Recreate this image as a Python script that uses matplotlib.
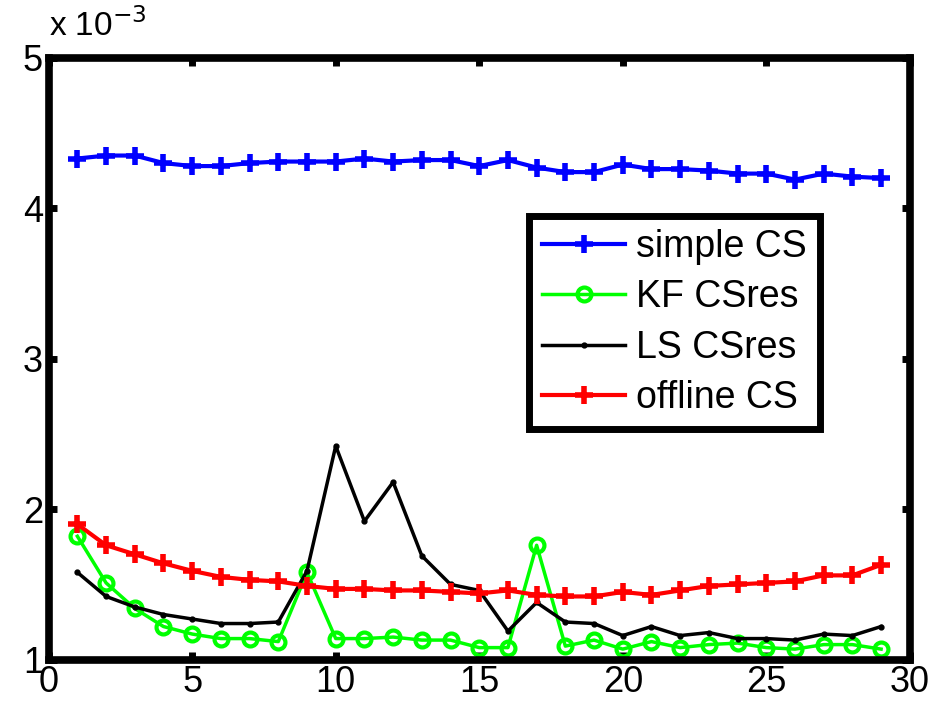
import matplotlib
matplotlib.use('Agg')
import matplotlib.pyplot as plt

plt.rcParams['font.family'] = ['Liberation Sans', 'DejaVu Sans']

# values in units of 1e-3
x = list(range(1, 30))
simple_cs = [4.33, 4.35, 4.35, 4.30, 4.28, 4.28, 4.30, 4.31, 4.31, 4.31,
             4.33, 4.31, 4.32, 4.32, 4.28, 4.32, 4.27, 4.24, 4.24, 4.29,
             4.26, 4.26, 4.25, 4.23, 4.23, 4.19, 4.23, 4.21, 4.20]
kf_csres = [1.82, 1.51, 1.34, 1.22, 1.17, 1.14, 1.14, 1.12, 1.58, 1.14,
            1.14, 1.15, 1.13, 1.13, 1.08, 1.08, 1.76, 1.09, 1.13, 1.07,
            1.12, 1.08, 1.10, 1.11, 1.08, 1.07, 1.10, 1.10, 1.07]
ls_csres = [1.58, 1.42, 1.35, 1.30, 1.27, 1.24, 1.24, 1.25, 1.59, 2.42,
            1.92, 2.18, 1.69, 1.50, 1.46, 1.19, 1.38, 1.25, 1.24, 1.16,
            1.22, 1.16, 1.18, 1.14, 1.14, 1.13, 1.17, 1.16, 1.22]
offline_cs = [1.90, 1.76, 1.70, 1.64, 1.59, 1.55, 1.53, 1.52, 1.49, 1.47,
              1.47, 1.46, 1.46, 1.45, 1.44, 1.46, 1.43, 1.42, 1.42, 1.45,
              1.43, 1.46, 1.49, 1.50, 1.51, 1.52, 1.56, 1.56, 1.63]

fig = plt.figure(figsize=(9.36, 7.04), dpi=100)
ax = fig.add_axes([0.052, 0.063, 0.920, 0.855])

ax.plot(x, simple_cs, color='#0000ff', lw=3, marker='+', ms=13, mew=4, label='simple CS')
ax.plot(x, kf_csres, color='#00ff00', lw=2.5, marker='o', ms=10, mew=3, mfc='none', label='KF CSres')
ax.plot(x, ls_csres, color='black', lw=2.5, marker='.', ms=7, label='LS CSres')
ax.plot(x, offline_cs, color='#ff0000', lw=3, marker='+', ms=13, mew=4, label='offline CS')

ax.set_xlim(0, 30)
ax.set_ylim(1, 5)
ax.set_xticks([0, 5, 10, 15, 20, 25, 30])
ax.set_yticks([1, 2, 3, 4, 5])
ax.tick_params(direction='in', length=6, width=5, labelsize=26, top=True, right=True, pad=4)
for s in ax.spines.values():
    s.set_linewidth(5.5)

ax.text(0.0, 1.025, 'x 10$^{-3}$', transform=ax.transAxes, fontsize=24, ha='left', va='bottom')

leg = ax.legend(loc='upper left', bbox_to_anchor=(0.558, 0.737), borderaxespad=0,
                fontsize=27, fancybox=False, framealpha=1, edgecolor='black',
                handlelength=2.2, handletextpad=0.3, labelspacing=0.38, borderpad=0.35)
leg.get_frame().set_linewidth(5)

fig.savefig('out.png', dpi=100)
